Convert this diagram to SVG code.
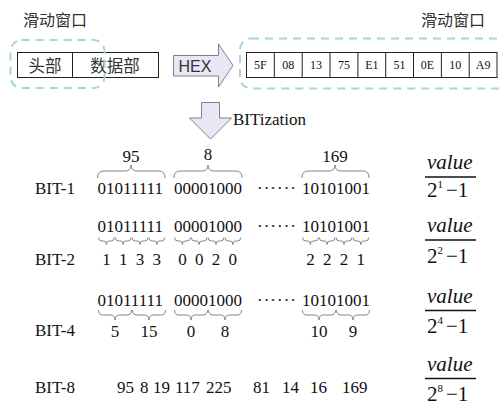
<svg xmlns="http://www.w3.org/2000/svg" width="499" height="407" viewBox="0 0 499 407">
<defs>
<style>
.cjk{font-family:"Noto Sans CJK SC","Noto Sans",sans-serif;fill:#333}
.tm{font-family:"Liberation Serif","Times New Roman",serif;fill:#111}
.dash{fill:none;stroke:#a9d2e2;stroke-width:2;stroke-dasharray:8 6}
.cell{fill:#fff;stroke:#222;stroke-width:1}
.arr{fill:#e7e7f6;stroke:#808090;stroke-width:1}
.br{fill:none;stroke:#777;stroke-width:0.9}
.fl{stroke:#111;stroke-width:1.4}
.b{font-size:17px}
.hx{font-size:12px;text-anchor:middle}
.it{font-style:italic;font-size:21px}
.dn{font-size:21px}
.sp{font-size:11px}
</style>
</defs>
<rect width="499" height="407" fill="#fff"/>

<g id="title-left"><text class="cjk" x="23" y="26" font-size="16">滑动窗口</text></g>
<g id="title-right"><text class="cjk" x="421" y="26" font-size="16">滑动窗口</text></g>

<g id="packet">
<rect class="cell" x="17.5" y="52.5" width="141" height="25"/>
<line x1="72.5" y1="52.5" x2="72.5" y2="77.5" stroke="#222"/>
<text class="cjk" x="45" y="72" font-size="16.5" text-anchor="middle">头部</text>
<text class="cjk" x="115" y="72" font-size="16.5" text-anchor="middle">数据部</text>
</g>
<g id="window-left"><rect class="dash" x="10.5" y="40" width="94" height="48" rx="11"/></g>

<g id="hex-arrow">
<path class="arr" d="M173.5,55.5 H218.5 V44 L233,65.5 L218.5,87 V76 H173.5 Z"/>
<text x="195" y="71.5" font-family="Liberation Sans,Arial,sans-serif" font-size="16" fill="#333" text-anchor="middle">HEX</text>
</g>

<g id="window-right"><rect class="dash" x="240" y="38.5" width="290" height="50" rx="11"/></g>
<g id="hex-bytes">
<rect class="cell" x="246.5" y="52.5" width="250.5" height="25"/>
<g stroke="#222" stroke-width="1">
<line x1="274.3" y1="52.5" x2="274.3" y2="77.5"/>
<line x1="302.2" y1="52.5" x2="302.2" y2="77.5"/>
<line x1="330" y1="52.5" x2="330" y2="77.5"/>
<line x1="357.9" y1="52.5" x2="357.9" y2="77.5"/>
<line x1="385.7" y1="52.5" x2="385.7" y2="77.5"/>
<line x1="413.5" y1="52.5" x2="413.5" y2="77.5"/>
<line x1="441.4" y1="52.5" x2="441.4" y2="77.5"/>
<line x1="469.2" y1="52.5" x2="469.2" y2="77.5"/>
</g>
<text class="tm hx" x="260.4" y="69">5F</text>
<text class="tm hx" x="288.2" y="69">08</text>
<text class="tm hx" x="316.1" y="69">13</text>
<text class="tm hx" x="343.9" y="69">75</text>
<text class="tm hx" x="371.8" y="69">E1</text>
<text class="tm hx" x="399.6" y="69">51</text>
<text class="tm hx" x="427.5" y="69">0E</text>
<text class="tm hx" x="455.3" y="69">10</text>
<text class="tm hx" x="483.1" y="69">A9</text>
</g>

<g id="bitization-arrow">
<path class="arr" d="M201.5,102.5 H219.5 V118 H231.5 L210.5,139 L189.5,118 H201.5 Z"/>
<text class="tm" x="233" y="125" font-size="17">BITization</text>
</g>

<g id="connectors">
<!-- BIT-1 overbraces -->
<path class="br" d="M97.5,178 Q97.5,171 104,171 H125 Q131,171 131,165 Q131,171 137,171 H158.5 Q165,171 165,178"/>
<path class="br" d="M174,178 Q174,171 180,171 H202 Q208,171 208,165 Q208,171 214,171 H236 Q242,171 242,178"/>
<path class="br" d="M302,178 Q302,171 308,171 H329 Q335,171 335,165 Q335,171 341,171 H363 Q369,171 369,178"/>
<!-- BIT-2 small underbraces -->
<g class="br">
<path d="M98.5,237.5 Q98.5,241 102,241 H104 Q106.4,241 106.4,244.5 Q106.4,241 109,241 H111 Q114.3,241 114.3,237.5"/>
<path d="M115.3,237.5 Q115.3,241 118.8,241 H120.8 Q123.2,241 123.2,244.5 Q123.2,241 125.8,241 H127.8 Q131.1,241 131.1,237.5"/>
<path d="M132.1,237.5 Q132.1,241 135.6,241 H137.6 Q140,241 140,244.5 Q140,241 142.6,241 H144.6 Q147.9,241 147.9,237.5"/>
<path d="M148.9,237.5 Q148.9,241 152.4,241 H154.4 Q156.8,241 156.8,244.5 Q156.8,241 159.4,241 H161.4 Q164.7,241 164.7,237.5"/>
<path d="M174.5,237.5 Q174.5,241 178,241 H180 Q182.4,241 182.4,244.5 Q182.4,241 185,241 H187 Q190.3,241 190.3,237.5"/>
<path d="M191.3,237.5 Q191.3,241 194.8,241 H196.8 Q199.2,241 199.2,244.5 Q199.2,241 201.8,241 H203.8 Q207.1,241 207.1,237.5"/>
<path d="M208.1,237.5 Q208.1,241 211.6,241 H213.6 Q216,241 216,244.5 Q216,241 218.6,241 H220.6 Q223.9,241 223.9,237.5"/>
<path d="M224.9,237.5 Q224.9,241 228.4,241 H230.4 Q232.8,241 232.8,244.5 Q232.8,241 235.4,241 H237.4 Q240.7,241 240.7,237.5"/>
<path d="M302.5,237.5 Q302.5,241 306,241 H308 Q310.4,241 310.4,244.5 Q310.4,241 313,241 H315 Q318.3,241 318.3,237.5"/>
<path d="M319.3,237.5 Q319.3,241 322.8,241 H324.8 Q327.2,241 327.2,244.5 Q327.2,241 329.8,241 H331.8 Q335.1,241 335.1,237.5"/>
<path d="M336.1,237.5 Q336.1,241 339.6,241 H341.6 Q344,241 344,244.5 Q344,241 346.6,241 H348.6 Q351.9,241 351.9,237.5"/>
<path d="M352.9,237.5 Q352.9,241 356.4,241 H358.4 Q360.8,241 360.8,244.5 Q360.8,241 363.4,241 H365.4 Q368.7,241 368.7,237.5"/>
</g>
<!-- BIT-4 underbraces -->
<g class="br">
<path d="M98.5,310 Q98.5,315 103,315 H110.5 Q115,315 115,320 Q115,315 119.5,315 H127 Q131.5,315 131.5,310"/>
<path d="M132.5,310 Q132.5,315 137,315 H144.5 Q149,315 149,320 Q149,315 153.5,315 H161 Q165.5,315 165.5,310"/>
<path d="M174.5,310 Q174.5,315 179,315 H186.5 Q191,315 191,320 Q191,315 195.5,315 H203 Q207.5,315 207.5,310"/>
<path d="M208.5,310 Q208.5,315 213,315 H220.5 Q225,315 225,320 Q225,315 229.5,315 H237 Q241.5,315 241.5,310"/>
<path d="M302.5,310 Q302.5,315 307,315 H314.5 Q319,315 319,320 Q319,315 323.5,315 H331 Q335.5,315 335.5,310"/>
<path d="M336.5,310 Q336.5,315 341,315 H348.5 Q353,315 353,320 Q353,315 357.5,315 H365 Q369.5,315 369.5,310"/>
</g>
</g>

<g id="bit1">
<text class="tm b" x="35" y="194">BIT-1</text>
<text class="tm b" x="131" y="162" text-anchor="middle">95</text>
<text class="tm b" x="208" y="160" text-anchor="middle">8</text>
<text class="tm b" x="335" y="162" text-anchor="middle">169</text>
<text class="tm b" x="97.5" y="194">01011111</text>
<text class="tm b" x="174" y="194">00001000</text>
<text class="tm b" x="257" y="194" letter-spacing="1">······</text>
<text class="tm b" x="302" y="194">10101001</text>
</g>

<g id="bit2">
<text class="tm b" x="97.5" y="232">01011111</text>
<text class="tm b" x="174" y="232">00001000</text>
<text class="tm b" x="257" y="232" letter-spacing="1">······</text>
<text class="tm b" x="302" y="232">10101001</text>
<text class="tm b" x="35" y="265">BIT-2</text>
<g class="tm b" text-anchor="middle">
<text x="106.4" y="265">1</text><text x="123.2" y="265">1</text><text x="140" y="265">3</text><text x="156.8" y="265">3</text>
<text x="182.4" y="265">0</text><text x="199.2" y="265">0</text><text x="216" y="265">2</text><text x="232.8" y="265">0</text>
<text x="310.4" y="265">2</text><text x="327.2" y="265">2</text><text x="344" y="265">2</text><text x="360.8" y="265">1</text>
</g>
</g>

<g id="bit4">
<text class="tm b" x="97.5" y="306">01011111</text>
<text class="tm b" x="174" y="306">00001000</text>
<text class="tm b" x="257" y="306" letter-spacing="1">······</text>
<text class="tm b" x="302" y="306">10101001</text>
<text class="tm b" x="35" y="336">BIT-4</text>
<g class="tm b" text-anchor="middle">
<text x="115" y="337">5</text><text x="149" y="337">15</text><text x="191" y="337">0</text><text x="225" y="337">8</text>
<text x="319" y="337">10</text><text x="353" y="337">9</text>
</g>
</g>

<g id="bit8">
<text class="tm b" x="35" y="393">BIT-8</text>
<g class="tm b">
<text x="117" y="393">95</text><text x="140" y="393">8</text><text x="153" y="393">19</text><text x="175" y="393">117</text><text x="206" y="393">225</text>
<text x="253" y="393">81</text><text x="282" y="393">14</text><text x="310" y="393">16</text><text x="342" y="393">169</text>
</g>
</g>

<g id="frac1">
<text class="tm it" x="427" y="169">value</text>
<line class="fl" x1="425" y1="177" x2="476" y2="177"/>
<text class="tm dn" x="427" y="197">2<tspan class="sp" dy="-9">1</tspan><tspan dy="9" dx="3">−1</tspan></text>
</g>
<g id="frac2">
<text class="tm it" x="427" y="232">value</text>
<line class="fl" x1="425" y1="240" x2="476" y2="240"/>
<text class="tm dn" x="427" y="263">2<tspan class="sp" dy="-9">2</tspan><tspan dy="9" dx="3">−1</tspan></text>
</g>
<g id="frac4">
<text class="tm it" x="427" y="303">value</text>
<line class="fl" x1="425" y1="310.5" x2="476" y2="310.5"/>
<text class="tm dn" x="427" y="333">2<tspan class="sp" dy="-9">4</tspan><tspan dy="9" dx="3">−1</tspan></text>
</g>
<g id="frac8">
<text class="tm it" x="427" y="371">value</text>
<line class="fl" x1="425" y1="378.5" x2="476" y2="378.5"/>
<text class="tm dn" x="427" y="401">2<tspan class="sp" dy="-9">8</tspan><tspan dy="9" dx="3">−1</tspan></text>
</g>
</svg>
